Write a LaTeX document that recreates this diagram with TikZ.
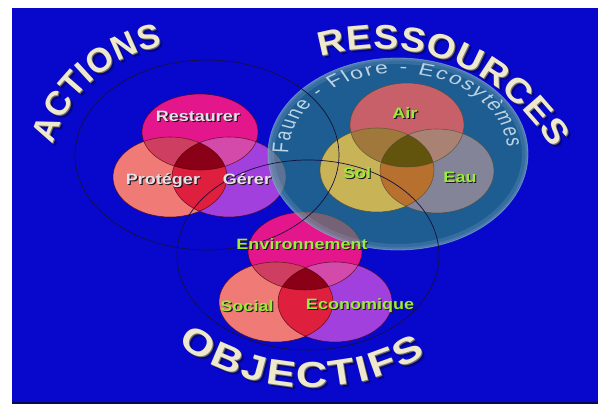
\documentclass[tikz,border=0pt]{standalone}
\usepackage{fontspec}
\newfontfamily\libsans{Liberation Sans}

% palette
\definecolor{bgblue}{RGB}{8,8,205}
\definecolor{edgenavy}{RGB}{10,10,70}
\definecolor{cMag}{RGB}{228,22,140}
\definecolor{cSal}{RGB}{240,122,118}
\definecolor{cPur}{RGB}{162,64,222}
\definecolor{cMS}{RGB}{205,62,96}
\definecolor{cMP}{RGB}{212,74,170}
\definecolor{cSP}{RGB}{222,32,62}
\definecolor{cAll}{RGB}{138,0,22}
\definecolor{cAir}{RGB}{200,96,106}
\definecolor{cSol}{RGB}{200,180,86}
\definecolor{cEau}{RGB}{132,132,152}
\definecolor{cAS}{RGB}{160,120,60}
\definecolor{cAE}{RGB}{170,130,115}
\definecolor{cSE}{RGB}{184,112,46}
\definecolor{cASE}{RGB}{98,84,12}
\definecolor{glass}{RGB}{45,150,105}
\definecolor{glassrim}{RGB}{150,175,220}
\definecolor{ringline}{RGB}{20,15,60}
\definecolor{facec}{RGB}{238,232,205}
\definecolor{bevelc}{RGB}{120,115,100}
\definecolor{shadowc}{RGB}{0,0,60}
\definecolor{labwhite}{RGB}{228,226,230}
\definecolor{labgreen}{RGB}{155,235,60}
\definecolor{labshadow}{RGB}{30,20,30}
\definecolor{faunec}{RGB}{190,212,228}

\tikzset{
  vline/.style={draw=#1, line width=.6pt, draw opacity=.7},
  ring/.style={draw=ringline, line width=.7pt},
  ttl/.style={inner sep=0pt, anchor=base,
    font=\libsans\bfseries\fontsize{\ttlsize}{\ttlsize}\selectfont},
  lab/.style={inner sep=0pt, anchor=base, xscale=1.2,
    font=\libsans\bfseries\fontsize{15}{15}\selectfont},
}

% three overlapping ellipses \eA, \eB, \eC with all seven regions coloured
\newcommand\vennfill[8]{%
  \fill[#1] \eA; \fill[#2] \eB; \fill[#3] \eC;
  \begin{scope}\clip \eA; \fill[#4] \eB; \fill[#5] \eC; \end{scope}
  \begin{scope}\clip \eB; \fill[#6] \eC; \end{scope}
  \begin{scope}\clip \eA; \clip \eB; \fill[#7] \eC; \end{scope}
  \draw[vline=#8] \eA; \draw[vline=#8] \eB; \draw[vline=#8] \eC;
}

% label with a small dark shadow
\newcommand\vlabel[5]{%
  \node[lab, text=labshadow] (#1-sh) at ({#2+1.2},{#3+1.2}) {#4};
  \node[lab, text=#5] (#1) at (#2,#3) {#4};
}

% raised title letters set along a circle:
% prefix, cx, cy, baseline radius, start angle, direction (1 = clockwise),
% tracking, letter/advance(em) list; size in \ttlsize, widening in \ttlxs
\newcommand\arcttl[8]{%
  \gdef\arcS{0}\gdef\arcPrev{0}%
  \foreach \ch/\w [count=\k] in {#8}{%
    \pgfmathsetmacro\arcHw{\w*\ttlsize*\ttlxs/2}%
    \pgfmathsetmacro\arcNew{\k==1 ? 0 : \arcS+\arcPrev+#7+\arcHw}%
    \xdef\arcS{\arcNew}\xdef\arcPrev{\arcHw}%
    \pgfmathsetmacro\arcAng{#5-#6*\arcNew/#4*180/pi}%
    \pgfmathsetmacro\arcRot{\arcAng-#6*90}%
    \pgfmathsetmacro\arcX{#2+#4*cos(\arcAng)}%
    \pgfmathsetmacro\arcY{#3-#4*sin(\arcAng)}%
    \node[ttl, text=shadowc, opacity=.45, rotate=\arcRot, xscale=\ttlxs]
      (#1-s\k) at ({\arcX+3},{\arcY+3}) {\ch};
    \node[ttl, text=bevelc, rotate=\arcRot, xscale=\ttlxs]
      (#1-e\k) at ({\arcX+1},{\arcY+1}) {\ch};
    \node[ttl, text=facec, rotate=\arcRot, xscale=\ttlxs]
      (#1\k) at (\arcX,\arcY) {\ch};
  }%
}

% small letters round the glass disc (circle stretched into its ellipse):
% prefix, cx, cy, radius, start angle, font size, tracking, letter/advance list
\newcommand\arctext[8]{%
  \gdef\arcS{0}\gdef\arcPrev{0}%
  \foreach \ch/\w [count=\k] in {#8}{%
    \pgfmathsetmacro\arcHw{\w*#6/2}%
    \pgfmathsetmacro\arcNew{\k==1 ? 0 : \arcS+\arcPrev+#7+\arcHw}%
    \xdef\arcS{\arcNew}\xdef\arcPrev{\arcHw}%
    \pgfmathsetmacro\arcAng{#5-\arcNew/#4*180/pi}%
    \pgfmathsetmacro\arcRot{\arcAng-90}%
    \pgfmathsetmacro\arcX{#2+1.355*#4*cos(\arcAng)}%
    \pgfmathsetmacro\arcY{#3-#4*sin(\arcAng)}%
    \node[name=#1\k, font=\libsans\fontsize{#6}{#6}\selectfont, text=faunec,
          anchor=base, inner sep=0pt, xscale=1.355, rotate=\arcRot]
      at (\arcX,\arcY) {\ch};
  }%
}

\begin{document}
\begin{tikzpicture}[x=1pt,y=-1pt]
\useasboundingbox (0,0) rectangle (598,406);
\fill[white] (0,0) rectangle (598,406);
\fill[bgblue] (12,8) rectangle (598,404);
\draw[edgenavy, line width=1.5pt] (12,403) -- (598,403);

% ---- ACTIONS set
\def\eA{(200,132) ellipse [x radius=58pt, y radius=38pt]}
\def\eB{(170,177) ellipse [x radius=57pt, y radius=40pt]}
\def\eC{(229,177) ellipse [x radius=57pt, y radius=40pt]}
\vennfill{cMag}{cSal}{cPur}{cMS}{cMP}{cSP}{cAll}{black!70!red}

% ---- OBJECTIFS set
\def\eA{(305,251) ellipse [x radius=57pt, y radius=39pt]}
\def\eB{(276,302) ellipse [x radius=57pt, y radius=40pt]}
\def\eC{(335,302) ellipse [x radius=57pt, y radius=40pt]}
\vennfill{cMag}{cSal}{cPur}{cMS}{cMP}{cSP}{cAll}{black!70!red}

% ---- RESSOURCES glass disc
\def\glassdisc{(398,154) ellipse [x radius=130pt, y radius=96pt]}
\fill[glass, fill opacity=.6] \glassdisc;
\begin{scope}
  \clip \glassdisc;
  \draw[glassrim, line width=12pt, draw opacity=.2] \glassdisc;
  \draw[glassrim, line width=5pt, draw opacity=.2] \glassdisc;
\end{scope}
\draw[glassrim, line width=.8pt, draw opacity=.55] \glassdisc;

% ---- RESSOURCES set
\def\eA{(407,125) ellipse [x radius=57pt, y radius=42pt]}
\def\eB{(377,170) ellipse [x radius=57pt, y radius=42pt]}
\def\eC{(437,171) ellipse [x radius=57pt, y radius=42pt]}
\vennfill{cAir}{cSol}{cEau}{cAS}{cAE}{cSE}{cASE}{black!60!olive}

% ---- outer rings
\draw[ring] (207,155) ellipse [x radius=132pt, y radius=95pt];
\draw[ring] (308,255) ellipse [x radius=131pt, y radius=95pt];

% ---- labels
\vlabel{restaurer}{198}{121.5}{Restaurer}{labwhite}
\vlabel{proteger}{163}{184.5}{Protéger}{labwhite}
\vlabel{gerer}{247}{184.5}{Gérer}{labwhite}
\vlabel{environnement}{302}{249.5}{Environnement}{labgreen}
\vlabel{social}{247}{311.5}{Social}{labgreen}
\vlabel{economique}{360}{309.5}{Economique}{labgreen}
\vlabel{air}{405}{118.5}{Air}{labgreen}
\vlabel{sol}{357}{178.5}{Sol}{labgreen}
\vlabel{eau}{460}{182.5}{Eau}{labgreen}

% ---- text round the glass disc
\arctext{faune}{398}{154}{81}{176}{17}{1.5}{F/.611, a/.556, u/.556, n/.556,
  e/.556, ~/.278, -/.333, ~/.278, F/.611, l/.222, o/.556, r/.333, e/.556,
  ~/.278, -/.333, ~/.278, E/.667, c/.5, o/.556, s/.5, y/.5, t/.278, è/.556,
  m/.833, e/.556, s/.5}

% ---- titles
\def\ttlsize{34}\def\ttlxs{1.0}
\arcttl{act}{185}{183}{138}{158.6}{1}{0.3}{A/.722, C/.722, T/.611, I/.278,
  O/.778, N/.722, S/.667}
\def\ttlsize{34}\def\ttlxs{1.1}
\arcttl{res}{378}{250}{201}{102.6}{1}{0.6}{R/.722, E/.667, S/.667, S/.667,
  O/.778, U/.722, R/.722, C/.722, E/.667, S/.667}
\def\ttlsize{36}\def\ttlxs{1.2}
\arcttl{obj}{310}{164.5}{223}{237.9}{-1}{2.7}{O/.778, B/.722, J/.556, E/.667,
  C/.722, T/.611, I/.278, F/.611, S/.667}
\end{tikzpicture}
\end{document}
